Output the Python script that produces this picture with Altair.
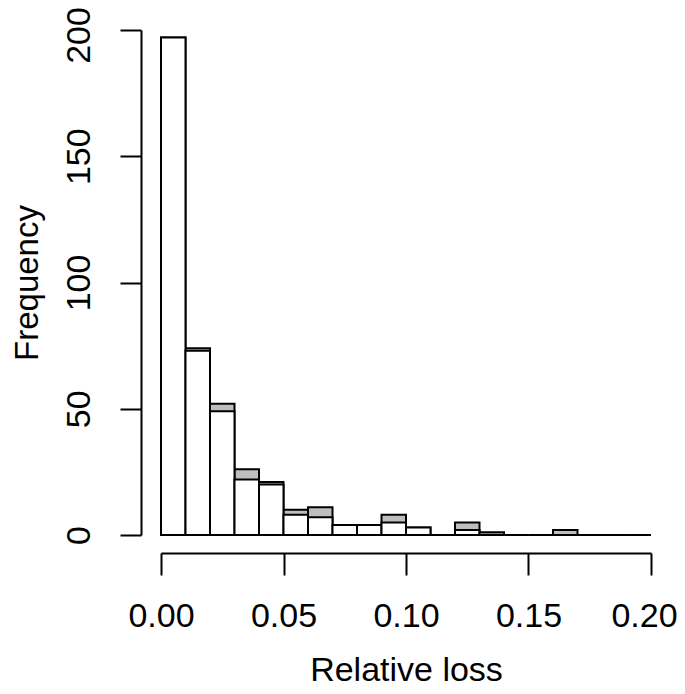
import altair as alt
import pandas as pd

bin_start = [0.00, 0.01, 0.02, 0.03, 0.04, 0.05, 0.06, 0.07, 0.08, 0.09,
             0.10, 0.11, 0.12, 0.13, 0.14, 0.15, 0.16, 0.17, 0.18, 0.19]
bin_end = [0.01, 0.02, 0.03, 0.04, 0.05, 0.06, 0.07, 0.08, 0.09, 0.10,
           0.11, 0.12, 0.13, 0.14, 0.15, 0.16, 0.17, 0.18, 0.19, 0.20]
gray_counts = [197, 74, 52, 26, 21, 10, 11, 4, 4, 8, 3, 0, 5, 1, 0, 0, 2, 0, 0, 0]
white_counts = [197, 73, 49, 22, 20, 8, 7, 4, 4, 5, 3, 0, 2, 1, 0, 0, 0, 0, 0, 0]
x_ticks = [0.0, 0.05, 0.10, 0.15, 0.20]
y_ticks = [0, 50, 100, 150, 200]

df_gray = pd.DataFrame({"start": bin_start, "end": bin_end, "count": gray_counts})
df_white = pd.DataFrame({"start": bin_start, "end": bin_end, "count": white_counts})

FONT = "Liberation Sans"
W, H = 490, 505

x_enc = alt.X(
    "start:Q",
    scale=alt.Scale(domain=[0, 0.2], nice=False, zero=False),
    axis=alt.Axis(
        title="Relative loss", values=x_ticks, format=".2f", grid=False,
        offset=18, tickSize=22, tickWidth=2, domainWidth=2,
        domainColor="black", tickColor="black",
        labelFont=FONT, labelFontSize=34, labelColor="black", labelPadding=24,
        labelBaseline="top", labelFlush=False,
        labelOffset={"condition": {"test": "datum.value >= 0.2", "value": -7}, "value": 0},
        titleFont=FONT, titleFontSize=34, titleFontWeight="normal", titleColor="black",
        titleX=W / 2, titleY=127, titleBaseline="alphabetic", titleAlign="center",
    ),
)
y_enc = alt.Y(
    "count:Q",
    scale=alt.Scale(domain=[0, 200], nice=False),
    axis=alt.Axis(
        title="Frequency", values=y_ticks, grid=False,
        offset=20, tickSize=21, tickWidth=2, domainWidth=2,
        domainColor="black", tickColor="black",
        labelFont=FONT, labelFontSize=34, labelColor="black", labelPadding=31,
        labelAngle=270, labelAlign="center", labelBaseline="alphabetic", labelFlush=False,
        labelOffset={"condition": {"test": "datum.value >= 200", "value": 5}, "value": 0},
        titleFont=FONT, titleFontSize=33, titleFontWeight="normal", titleColor="black",
        titleAngle=270, titleX=-104, titleY=H / 2, titleBaseline="alphabetic", titleAlign="center",
    ),
)

gray = alt.Chart(df_gray).mark_rect(fill="#bebebe", stroke="black", strokeWidth=2).encode(
    x=x_enc, x2="end:Q", y=y_enc, y2=alt.datum(0)
)
white = alt.Chart(df_white).mark_rect(fill="white", stroke="black", strokeWidth=2).encode(
    x="start:Q", x2="end:Q", y="count:Q", y2=alt.datum(0)
)

chart = alt.layer(gray, white).properties(
    width=W, height=H,
    background="white",
    autosize=alt.AutoSizeParams(type="none"),
    padding={"left": 153, "top": 22, "right": 26, "bottom": 151},
).configure_view(strokeWidth=0, stroke="transparent")

chart.save("out.html", embed_options={"renderer": "svg", "actions": False})
